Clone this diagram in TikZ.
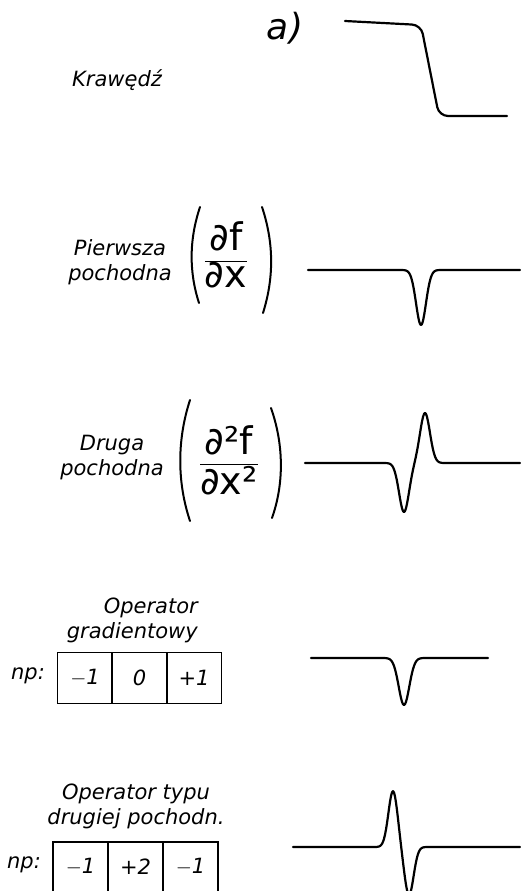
\documentclass[tikz,border=0pt]{standalone}
\usepackage{fontspec}
\setsansfont{DejaVu Sans}
\usetikzlibrary{positioning}

\begin{document}
\begin{tikzpicture}[x=1pt, y=-1pt,
    declare function={bosse(\xx,\cc,\ww)=exp(-((\xx-\cc)/\ww)*((\xx-\cc)/\ww));},
    courbe/.style={line width=2.2pt, line join=round, line cap=round},
    nawias/.style={line width=2pt, line cap=round},
    texte/.style={font=\fontsize{21}{25}\selectfont\sffamily\itshape, align=center, inner sep=0pt},
    formule/.style={font=\fontsize{38}{44}\selectfont\sffamily, inner sep=0pt},
    case/.style={draw, line width=1.3pt, minimum width=55pt, minimum height=51pt, inner sep=0pt,
        font=\fontsize{21}{25}\selectfont\sffamily\itshape}]
    \useasboundingbox (0,0) rectangle (520,891);
    % Ligne 1 : Krawedz
    \node[texte] (lettre) at (285,28) {\fontsize{36}{40}\selectfont a)};
    \node[texte] (krawedz) at (117,80) {Krawędź};
    \draw[courbe, rounded corners=9pt] (345,21) -- (421,25) -- (439,116) -- (507,116);
    % Ligne 2 : Pierwsza pochodna
    \node[texte] (pierwsza) at (120,262) {Pierwsza\\pochodna};
    \node[formule] (df) at (226,255) {$\displaystyle\frac{\mbox{∂f}}{\mbox{∂x}}$};
    \draw[nawias] (200,207) .. controls (189,240) and (189,272) .. (199,303);
    \draw[nawias] (262,207) .. controls (274,243) and (274,278) .. (263,313);
    \draw[courbe] (308,270) -- plot[domain=395:445, samples=61] (\x, {270+55*bosse(\x,421,7)}) -- (520,270);
    % Ligne 3 : Druga pochodna
    \node[formule] (d2f) at (229,460) {$\displaystyle\frac{\mbox{∂²f}}{\mbox{∂x²}}$};
    \node[texte] (druga) at (112,458) {Druga\\pochodna};
    \draw[nawias] (190,400) .. controls (177,440) and (177,482) .. (190,521);
    \draw[nawias] (271,408) .. controls (284,445) and (284,484) .. (272,518);
    \draw[courbe] (305,463) -- plot[domain=375:455, samples=81] (\x, {463+49*bosse(\x,404,7)-50*bosse(\x,425,7)}) -- (520,463);
    % Ligne 4 : Operator gradientowy
    \node[texte, align=right, anchor=east] (gradient) at (198,620) {Operator\\gradientowy};
    \node[texte] (np1) at (28,676) {np:};
    \foreach \n/\xc/\v in {1/85/$-$1, 2/139.5/0, 3/194/+1} {
        \node[case] (g\n) at (\xc,678) {\v};
    }
    \draw[courbe] (311,658) -- plot[domain=375:435, samples=61] (\x, {658+47*bosse(\x,404,7.5)}) -- (488,658);
    % Ligne 5 : Operator typu drugiej pochodnej
    \node[texte] (typu) at (136,806) {Operator typu\\drugiej pochodn.};
    \node[texte] (np2) at (24,865) {np:};
    \foreach \n/\xc/\v in {1/80.5/$-$1, 2/135.5/+2, 3/190.5/$-$1} {
        \node[case, minimum height=50pt] (l\n) at (\xc,867) {\v};
    }
    \draw[courbe] (293,847) -- plot[domain=365:435, samples=71] (\x, {847-56*bosse(\x,393,6.5)+48*bosse(\x,409,6.5)}) -- (520,847);
\end{tikzpicture}
\end{document}
